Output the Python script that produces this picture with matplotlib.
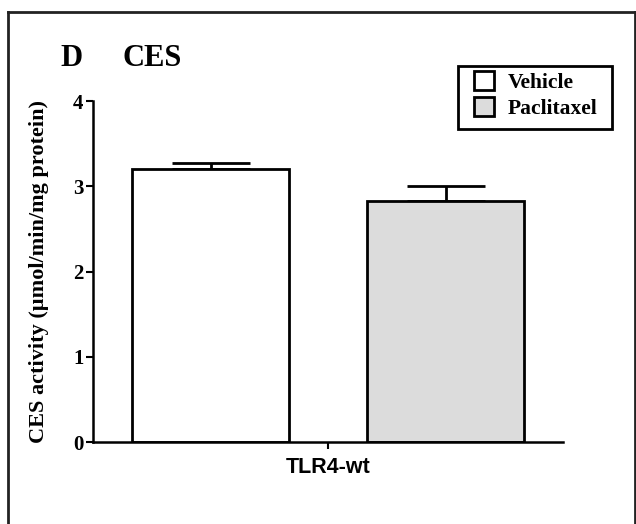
import matplotlib
matplotlib.use("Agg")
import matplotlib.pyplot as plt
from matplotlib.lines import Line2D
from matplotlib.patches import Patch, Rectangle

groups = ["Vehicle", "Paclitaxel"]
category = "TLR4-wt"
means = [3.20, 2.83]
sems = [0.07, 0.17]
colors = ["#ffffff", "#dcdcdc"]
yticks = [0, 1, 2, 3, 4]

plt.rcParams['font.family'] = ['Liberation Serif', 'DejaVu Serif']
plt.rcParams['font.weight'] = 'bold'

fig = plt.figure(figsize=(6.36, 5.24), dpi=100)
ax = fig.add_axes([93/636, 1-442/524, 470/636, 341/524])

xpos = [-0.5, 0.5]
width = 0.668
ax.bar(xpos, means, width=width, color=colors, edgecolor='black', linewidth=2, zorder=2)
ax.errorbar(xpos, means, yerr=[[0, 0], sems], fmt='none', ecolor='black',
            elinewidth=2, capsize=28, capthick=2, zorder=1)

ax.set_xlim(-1, 1)
ax.set_ylim(0, 4)
ax.set_yticks(yticks)
ax.set_yticklabels([str(t) for t in yticks], fontsize=15, fontweight='bold')
ax.set_xticks([0])
ax.set_xticklabels([category], fontsize=15.5, fontweight='bold', family='Liberation Sans')
ax.tick_params(axis='both', direction='out', length=5, width=1.5, pad=2)
ax.tick_params(axis='x', pad=6)
for s in ['top', 'right']:
    ax.spines[s].set_visible(False)
for s in ['left', 'bottom']:
    ax.spines[s].set_linewidth(1.8)

ax.set_ylabel("CES activity (\u00b5mol/min/mg protein)", fontsize=16, fontweight='bold', labelpad=17)

handles = [Patch(facecolor=c, edgecolor='black', linewidth=2, label=g) for g, c in zip(groups, colors)]
leg = fig.legend(handles=handles, loc='upper left', bbox_to_anchor=(474/636, 1-71/524),
                 frameon=False, fontsize=15.5,
                 handlelength=0.95, handleheight=0.95, handletextpad=0.6,
                 borderpad=0, labelspacing=0.2, borderaxespad=0)
for t in leg.get_texts():
    t.set_fontweight('bold')
fig.add_artist(Rectangle((458/636, 1-129/524), 154/636, 63/524, transform=fig.transFigure,
                         fill=False, edgecolor='black', linewidth=2))

fig.text(60/636, 1-66/524, "D", fontsize=22, fontweight='bold', va='baseline')
fig.text(122/636, 1-66/524, "CES", fontsize=22, fontweight='bold', va='baseline')

# outer frame
fig.add_artist(Line2D([8/636, 8/636], [0, 1-12/524], color='#222222', lw=2, transform=fig.transFigure))
fig.add_artist(Line2D([8/636, 635/636], [1-12/524, 1-12/524], color='#222222', lw=2, transform=fig.transFigure))
fig.add_artist(Line2D([635/636, 635/636], [0, 1-12/524], color='#222222', lw=2, transform=fig.transFigure))

fig.savefig("out.png", dpi=100)
